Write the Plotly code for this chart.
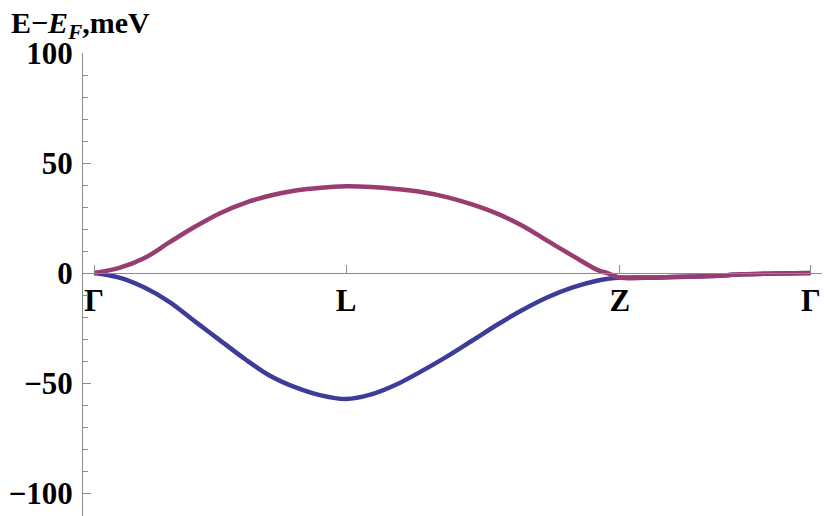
import plotly.graph_objects as go

# k-path positions (L at 1) and labels
K_TICKS = [0.0, 1.0, 2.087, 2.845]
K_LABELS = ["Γ", "L", "Z", "Γ"]

# momentum samples along Γ-L-Z-Γ
K = [0.0, 0.1, 0.2, 0.3, 0.4, 0.5, 0.6, 0.7, 0.8, 0.9, 1.0,
     1.1, 1.2, 1.3, 1.4, 1.5, 1.6, 1.7, 1.8, 1.9, 2.0, 2.036, 2.087,
     2.246, 2.444, 2.575, 2.710, 2.845]

# upper band (meV)
E_UP = [0.0, 2.3, 6.8, 14.0, 21.0, 27.2, 31.9, 35.2, 37.5, 38.8, 39.4,
        39.1, 38.2, 36.8, 34.5, 31.2, 27.0, 21.5, 14.6, 7.8, 1.3, 0.0, -2.1,
        -2.0, -1.4, -0.6, -0.2, 0.0]

# lower band (meV)
E_LO = [0.0, -2.1, -6.6, -13.2, -22.0, -30.6, -39.2, -46.8, -52.0, -55.6, -57.3,
        -55.2, -50.7, -44.6, -38.0, -30.8, -23.5, -16.8, -11.0, -6.5, -3.4, -2.7, -2.1,
        -2.0, -1.4, -0.6, -0.2, 0.0]

Y_TICKS = [-100, -50, 0, 50, 100]
Y_LABELS = ["\u2212100", "\u221250", "0", "50", "100"]
Y_MIN, Y_MAX = -110.45, 100.0
X_MIN, X_MAX = -0.044, 2.921

FONT = "Liberation Serif"
GRAY = "#8a8a8a"

fig = go.Figure()
fig.add_trace(go.Scatter(x=K, y=E_LO, mode="lines",
                         line=dict(color="#3d3d99", width=4.5, shape="spline", smoothing=1.0)))
fig.add_trace(go.Scatter(x=K, y=E_UP, mode="lines",
                         line=dict(color="#993d71", width=4.5, shape="spline", smoothing=1.0)))

zero_pos = -Y_MIN / (Y_MAX - Y_MIN)

fig.update_xaxes(
    range=[X_MIN, X_MAX], anchor="free", position=zero_pos,
    showline=True, linecolor=GRAY, linewidth=1,
    tickvals=K_TICKS, ticktext=K_LABELS,
    ticks="inside", ticklen=8, tickcolor=GRAY,
    showgrid=False, zeroline=False, automargin=False,
    tickfont=dict(family=FONT, size=31, color="black", weight="bold"),
    ticklabelstandoff=0,
)
fig.update_yaxes(
    range=[Y_MIN, Y_MAX], tickvals=Y_TICKS, ticktext=Y_LABELS,
    showline=True, linecolor=GRAY, linewidth=1,
    ticks="inside", ticklen=8, tickcolor=GRAY,
    minor=dict(dtick=10, tick0=0, ticks="inside", ticklen=5, tickcolor=GRAY, showgrid=False),
    showgrid=False, zeroline=False, automargin=False,
    tickfont=dict(family=FONT, size=31, color="black", weight="bold"),
    ticklabelstandoff=3,
)

fig.add_annotation(
    text="E\u2212<i>E</i><sub><i>F</i></sub>,meV",
    xref="paper", yref="paper", x=0, y=1, xanchor="left", yanchor="middle",
    xshift=-74, yshift=28, showarrow=False,
    font=dict(family=FONT, size=30, color="black", weight="bold"),
)

# page body adds an 8px offset, so margins are trimmed to keep the plot area in place
fig.update_layout(
    width=830, height=516,
    margin=dict(l=75, r=8, t=45, b=8),
    plot_bgcolor="white", paper_bgcolor="white",
    showlegend=False,
)

fig.write_html("out.html")
